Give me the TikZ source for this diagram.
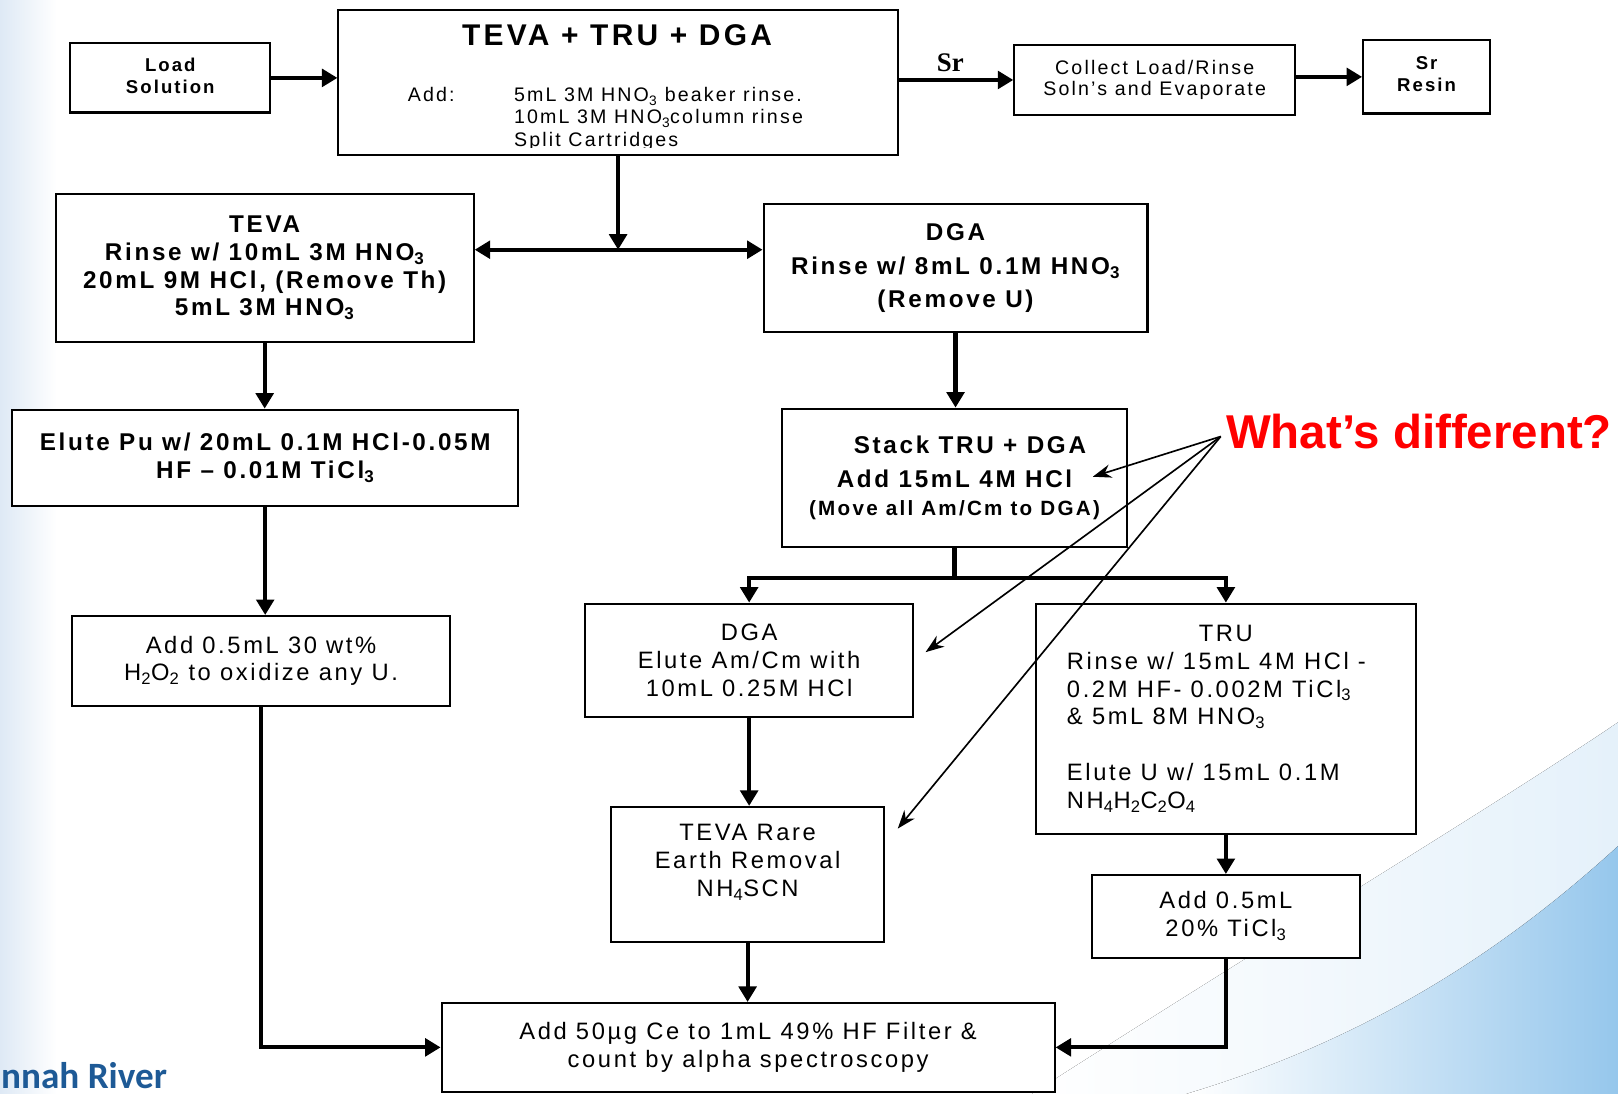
\documentclass[tikz,border=0pt]{standalone}
\usepackage{fontspec}
\setmainfont{Liberation Sans}[LetterSpace=11]
\newfontfamily\tightsans{Liberation Sans}
\newfontfamily\srserif{Liberation Serif}
\newfontfamily\logofont{Carlito}
\usetikzlibrary{arrows.meta}
\newcommand\sub[1]{\textsubscript{#1}}
\definecolor{whatred}{RGB}{255,0,0}
\definecolor{logoblue}{RGB}{30,90,150}
\definecolor{edgeblue}{RGB}{222,233,245}
\definecolor{swoosh}{RGB}{150,199,236}
\tikzset{
  box/.style={draw, line width=2pt, fill=white, inner sep=0pt, align=center, font=\fontsize{23}{27}\selectfont},
  boldbox/.style={box, font=\fontsize{23.5}{27}\selectfont\bfseries},
  flow/.style={line width=4pt, -{Triangle[length=15pt,width=17pt]}},
  pointer/.style={line width=1.6pt, -{Stealth[length=18pt,width=13pt]}},
  txt/.style={inner sep=0pt},
}
\begin{document}
\begin{tikzpicture}[x=1pt,y=-1pt]
\useasboundingbox (0,0) rectangle (1568,1060);
% background
\fill[white] (0,0) rectangle (1568,1060);
\fill[left color=edgeblue, right color=white] (0,0) rectangle (55,1060);
\fill[left color=white, right color=swoosh!25] (1000,1060) .. controls (1250,900) and (1450,780) .. (1568,700) -- (1568,1060) -- cycle;
\fill[left color=white, right color=swoosh] (1150,1060) .. controls (1350,1000) and (1480,900) .. (1568,820) -- (1568,1060) -- cycle;
\node[txt, anchor=base west, text=logoblue, font=\logofont\bfseries\fontsize{36}{36}\selectfont] (logo) at (1,1055) {nnah River};

% top row
\node[boldbox, minimum width=194pt, minimum height=67pt, font=\fontsize{18}{22}\selectfont\bfseries] (load) at (165,75.5) {\raisebox{4pt}{\shortstack{Load\\[5pt]Solution}}};
\node[box, minimum width=542pt, minimum height=140pt] (top) at (599,80) {};
\node[txt, font=\fontsize{29}{32}\selectfont\bfseries] (toptitle) at (598,34) {TEVA + TRU + DGA};
\begin{scope}
  \clip (330,12) rectangle (868,143);
  \node[txt, anchor=base west, font=\fontsize{19}{21}\selectfont] (addlbl) at (395,98.5) {Add:};
  \node[txt, anchor=base west, font=\fontsize{19}{21}\selectfont] (add1) at (498,98.5) {5mL 3M HNO\sub{3} beaker rinse.};
  \node[txt, anchor=base west, font=\fontsize{19}{21}\selectfont] (add2) at (498,120) {10mL 3M HNO\sub{3}column rinse};
  \node[txt, anchor=base west, font=\fontsize{19}{21}\selectfont] (add3) at (498,141.5) {Split Cartridges};
\end{scope}
\node[txt, font=\srserif\bfseries\fontsize{26}{28}\selectfont] (sr) at (921,61) {Sr};
\node[box, minimum width=272pt, minimum height=67pt, font=\fontsize{19}{21}\selectfont] (collect) at (1119,77.5) {\raisebox{4pt}{\shortstack{Collect Load/Rinse\\[4pt]Soln’s and Evaporate}}};
\node[boldbox, minimum width=123pt, minimum height=71pt, font=\fontsize{18}{21}\selectfont\bfseries] (resin) at (1382.5,74.5) {\raisebox{6pt}{\shortstack{Sr\\[5pt]Resin}}};

% left column
\node[boldbox, minimum width=405pt, minimum height=143pt] (teva) at (256.5,259.5) {TEVA\\Rinse w/ 10mL 3M  HNO\sub{3}\\20mL 9M HCl, (Remove Th)\\5mL 3M  HNO\sub{3}};
\node[boldbox, minimum width=490pt, minimum height=93pt] (elute) at (257,443.5) {Elute Pu w/ 20mL 0.1M HCl-0.05M\\HF – 0.01M TiCl\sub{3}};
\node[box, minimum width=366pt, minimum height=87pt] (h2o2) at (253,640.5) {Add 0.5mL 30 wt\%\\H\sub{2}O\sub{2} to oxidize any U.};

% right column
\node[boldbox, minimum width=372pt, minimum height=124pt] (dga) at (926,260) {DGA\\[5.5pt]Rinse w/ 8mL 0.1M HNO\sub{3}\\[5.5pt](Remove U)};
\node[boldbox, minimum width=334pt, minimum height=134pt] (stack) at (925,463) {\hspace*{30pt}Stack TRU + DGA\\[6pt]Add 15mL 4M HCl\\{\fontsize{20}{27}\selectfont (Move all Am/Cm to DGA)}};
\node[box, minimum width=318pt, minimum height=110pt] (dga2) at (726,640) {DGA\\Elute Am/Cm with\\10mL 0.25M HCl};
\node[box, minimum width=265pt, minimum height=131pt] (rare) at (724.5,847.5) {TEVA Rare\\Earth Removal\\NH\sub{4}SCN\\\mbox{}};
\node[box, minimum width=368pt, minimum height=223pt] (tru) at (1188,696.5) {\parbox{308pt}{\centering TRU\par\raggedright Rinse w/ 15mL 4M HCl -\\0.2M HF- 0.002M TiCl\sub{3}\\\& 5mL 8M HNO\sub{3}\\[27pt]Elute U w/ 15mL 0.1M\\NH\sub{4}H\sub{2}C\sub{2}O\sub{4}}};
\node[box, minimum width=260pt, minimum height=80pt] (ti) at (1188,888) {Add 0.5mL\\20\% TiCl\sub{3}};
\node[box, minimum width=594pt, minimum height=86pt] (final) at (725,1015) {Add 50µg Ce to 1mL 49\% HF Filter \&\\count by alpha spectroscopy};

\node[txt, anchor=west, text=whatred, font=\tightsans\bfseries\fontsize{46}{50}\selectfont] (what) at (1188,418) {What’s different?};

% connectors
\draw[flow] (load.east) -- (load.east -| top.west);
\draw[flow] (collect.west -| top.east) -- (collect.west);
\draw[flow] (collect.east |- resin.west) -- (resin.west);
\coordinate (split) at (599,242);
\draw[flow] (top.south) -- (split);
\draw[flow] (split) -- (split -| teva.east);
\draw[flow] (split) -- (split -| dga.west);
\draw[flow] (teva.south) -- (teva.south |- elute.north);
\draw[flow] (elute.south) -- (elute.south |- h2o2.north);
\draw[flow] (h2o2.south) |- (final.west);
\draw[flow] (dga.south) -- (dga.south |- stack.north);
\coordinate (branch) at (925,560);
\draw[line width=4pt] (stack.south) -- (branch);
\draw[flow] (branch) -| (dga2.north);
\draw[flow] (branch) -| (tru.north);
\draw[flow] (dga2.south) -- (dga2.south |- rare.north);
\draw[flow] (rare.south) -- (rare.south |- final.north);
\draw[flow] (tru.south) -- (tru.south |- ti.north);
\draw[flow] (ti.south) |- (final.east);

% pointers
\coordinate (wd) at (1183,423);
\coordinate (p1) at (1059,462);
\coordinate (p2) at (897,632);
\coordinate (p3) at (870,803);
\draw[pointer] (wd) -- (p1);
\draw[pointer] (wd) -- (p2);
\draw[pointer] (wd) -- (p3);
\end{tikzpicture}
\end{document}
